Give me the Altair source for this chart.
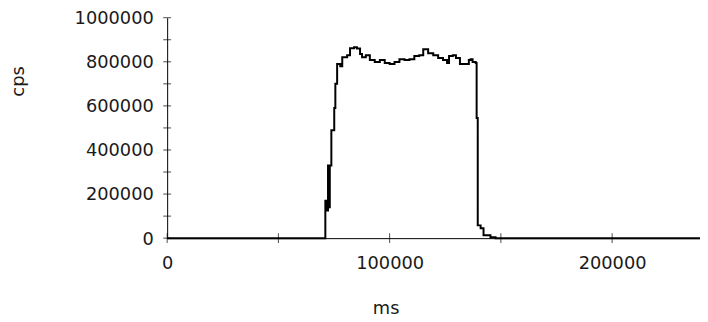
import altair as alt
import pandas as pd

# trace (ms, cps)
ms_vals = [0, 71100, 71800, 72300, 72700, 73100, 73800, 75100, 75600, 76400,
           77800, 78700, 80900, 82200, 84000, 85300, 86700, 87600, 89300, 91100,
           93300, 95600, 97800, 100000, 102200, 104400, 106700, 108900, 111100, 113300,
           115100, 117300, 119600, 121800, 124000, 125800, 126700, 128400, 129800, 131600,
           133300, 135600, 136400, 137300, 138700, 139100, 139600, 140900, 142200, 145300,
           147600, 239500]
cps_vals = [0, 170000, 125000, 330000, 140000, 330000, 490000, 590000, 700000, 790000,
            780000, 821000, 830000, 861000, 866000, 860000, 835000, 821000, 830000, 808000,
            799000, 808000, 795000, 790000, 799000, 812000, 808000, 812000, 826000, 830000,
            857000, 839000, 830000, 817000, 808000, 795000, 826000, 830000, 817000, 790000,
            790000, 808000, 812000, 799000, 795000, 545000, 58000, 45000, 13000, 4500,
            0, 0]

x_label_vals = [0, 100000, 200000]
x_tick_vals = [0, 50000, 100000, 150000, 200000]
y_label_vals = [0, 200000, 400000, 600000, 800000, 1000000]
y_tick_vals = [0, 100000, 200000, 300000, 400000, 500000, 600000, 700000, 800000, 900000, 1000000]

X_MAX = 239500
W, H = 539, 223
FONT = "DejaVu Sans"
TXT = "#1a1a1a"

xscale = alt.Scale(domain=[0, X_MAX], nice=False, zero=False)
yscale = alt.Scale(domain=[0, 1000000], nice=False)

line = alt.Chart(pd.DataFrame({"ms": ms_vals, "cps": cps_vals})).mark_line(
    color="black", strokeWidth=2, interpolate="step-after"
).encode(
    x=alt.X("ms:Q", scale=xscale, axis=alt.Axis(
        values=x_label_vals, format="d", title="ms", ticks=False, grid=False,
        domainColor="black", domainWidth=1, labelFont=FONT, labelFontSize=18,
        labelColor=TXT, labelPadding=17, labelFlush=False, labelOverlap=False,
        titleFont=FONT, titleFontSize=18, titleFontWeight="normal", titleColor=TXT,
        titleX=221, titleY=76, titleAlign="center", titleBaseline="alphabetic",
    )),
    y=alt.Y("cps:Q", scale=yscale, axis=alt.Axis(
        values=y_label_vals, format="d", title="cps", ticks=False, grid=False,
        domainColor="black", domainWidth=1, labelFont=FONT, labelFontSize=18,
        labelColor=TXT, labelPadding=14, labelFlush=False, labelOverlap=False,
        labelOffset=1,
        titleFont=FONT, titleFontSize=18, titleFontWeight="normal", titleColor=TXT,
        titleX=-145, titleY=64, titleAlign="center", titleBaseline="alphabetic",
        titleAngle=270,
    )),
)

yt = alt.Chart(pd.DataFrame({"cps": y_tick_vals})).mark_tick(
    color="black", thickness=1, size=8, orient="horizontal"
).encode(y=alt.Y("cps:Q", scale=yscale), x=alt.value(0))

xt = alt.Chart(pd.DataFrame({"ms": x_tick_vals})).mark_tick(
    color="black", thickness=1, size=10, orient="vertical"
).encode(x=alt.X("ms:Q", scale=xscale), y=alt.value(H))

chart = alt.layer(line, yt, xt).properties(
    width=W, height=H,
    autosize=alt.AutoSizeParams(type="none"),
    padding={"left": 161, "top": 8, "right": 0, "bottom": 84},
).configure_view(stroke="transparent")

chart.save("out.html", embed_options={"renderer": "svg", "actions": False})
